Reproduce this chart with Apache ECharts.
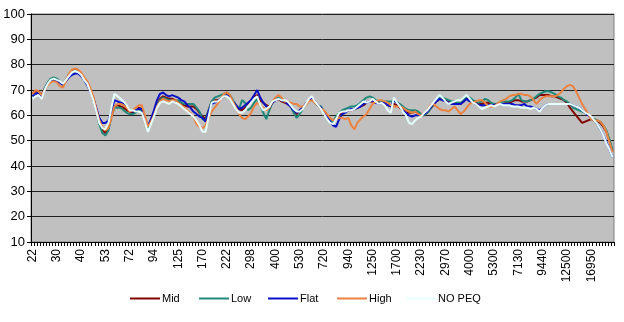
<!DOCTYPE html>
<html>
<head>
<meta charset="utf-8">
<script src="https://cdn.jsdelivr.net/npm/echarts@6/dist/echarts.min.js"></script>
<style>
  html, body { margin: 0; padding: 0; background: #ffffff; }
  #chart { width: 624px; height: 322px; }
</style>
</head>
<body>
<div id="chart"></div>
<script>
// Frequency labels shown every 8th measurement point (Hz)
const tickLabels = ['22', '30', '40', '53', '72', '94', '125', '170', '222', '298', '400', '530',
  '720', '940', '1250', '1700', '2230', '2970', '4000', '5300', '7130', '9440', '12500', '16950'];
const pointsPerLabel = 8;
const pointCount = 192;

// Response level (dB) per measurement point, one row per 8 points
const mid = [
  68.5, 69.5, 69.5, 68, 70.5, 72.5, 74, 74,
  74, 73, 72.5, 74, 76, 77.5, 78, 77.5,
  76.5, 74.5, 73, 70, 66.5, 62, 57, 54,
  53, 55, 60, 63.5, 64, 63.5, 63, 62,
  61.5, 61, 61.5, 63, 62.5, 58.5, 54.5, 57.5,
  61, 64.5, 66.5, 67.5, 67, 66.5, 66.5, 66,
  65.5, 65, 64, 63.5, 63.5, 63.5, 62.5, 61,
  59.5, 58.5, 62, 65.5, 66, 66, 66.5, 67.5,
  68, 67, 65.5, 64, 62.5, 62, 63, 64.5,
  66, 67.5, 68, 66, 65, 64, 63.5, 65,
  66, 66.5, 65.5, 65, 64.5, 63.5, 62, 60.5,
  62, 63, 64.5, 66, 66.5, 65, 64, 63,
  61.5, 60, 58.5, 58, 59, 60, 61, 61.5,
  62, 62, 62.5, 63, 63.5, 64, 65, 65.5,
  65.5, 65, 65, 65, 64.5, 64, 64, 64.5,
  64, 63, 62, 61.5, 61, 61, 61.5, 61,
  60, 60, 61, 62.5, 64, 65.5, 66.5, 66,
  66, 65.5, 65, 65, 64.5, 64.5, 65.5, 67,
  66.5, 65.5, 65, 64.5, 64.5, 65, 65, 64.5,
  64.5, 64.5, 64.5, 64.5, 65, 65, 65.5, 66,
  66, 65.5, 65.5, 65.5, 66, 66.5, 67, 68,
  68, 68, 68, 67.5, 67.5, 67, 66.5, 66,
  65, 63, 61.5, 60, 58.5, 57, 57.5, 58,
  58.5, 58, 58, 57, 55.5, 53.5, 50, 46
];
const low = [
  67.5, 68.5, 69, 67.5, 70.5, 73, 74.5, 75,
  74.5, 73.5, 72.5, 74, 75.5, 77, 77.5, 77,
  76, 74.5, 73, 70, 66.5, 62, 56.5, 53,
  52, 54, 59.5, 63, 63, 63, 62, 61,
  60.5, 60.5, 61, 62, 62, 58, 54.5, 57,
  60.5, 64, 66, 67, 66.5, 66, 66, 65.5,
  66, 65, 64.5, 64.5, 64.5, 64.5, 63, 61.5,
  58.5, 58, 62, 65.5, 67, 67.5, 68, 68.5,
  69, 68, 66, 64, 62.5, 66, 65, 62,
  63, 65, 66.5, 64, 61, 58.5, 62, 65,
  66.5, 67, 66, 65.5, 65, 63.5, 61, 59,
  60.5, 62.5, 64.5, 66, 66.5, 65, 64, 63.5,
  61.5, 60, 58.5, 57.5, 59.5, 61, 62, 62.5,
  63, 63.5, 63.5, 64, 65, 66, 67, 67.5,
  67, 66, 65.5, 65.5, 65.5, 65.5, 65.5, 65.5,
  65, 64.5, 63.5, 62.5, 62, 62, 62, 61.5,
  60.5, 60, 61, 62.5, 64.5, 66, 67.5, 67,
  66.5, 66, 65.5, 65.5, 65, 65, 66, 67.5,
  67, 66, 65.5, 65, 65.5, 66.5, 66, 65,
  64.5, 64.5, 65, 65.5, 65.5, 65.5, 66, 67,
  68.5, 66, 65.5, 65.5, 66, 66.5, 67.5, 68.5,
  69, 69.5, 69.5, 69, 68.5, 67.5, 67, 66,
  65.5, 64.5, 63, 62.5, 62, 61.5, 61, 60.5,
  59, 58.5, 58, 57.5, 56, 54, 50.5, 46.5
];
const flat = [
  67.5, 68.5, 69, 67.5, 70, 72.5, 73.5, 74,
  73.5, 73, 72, 73.5, 75, 76, 76.5, 76.5,
  75.5, 74, 72, 69.5, 67, 63, 59, 57,
  57, 58, 62, 66, 65.5, 65, 64.5, 63.5,
  62, 61.5, 62, 62.5, 62.5, 59, 55.5, 58.5,
  62, 66, 68.5, 69, 68, 67.5, 68, 67.5,
  67, 66, 65.5, 64, 63, 61.5, 60.5, 59.5,
  59, 57.5, 61.5, 64.5, 65, 65.5, 66.5, 67.5,
  68, 67, 65.5, 64, 62.5, 63, 64, 65,
  66, 68, 70, 67, 65, 63.5, 63, 65,
  66, 66.5, 66, 65.5, 64.5, 63.5, 62, 61,
  62, 63, 64.5, 66, 67, 65.5, 64, 63,
  61, 59.5, 57.5, 56, 55.5, 58.5, 60.5, 61,
  62, 62.5, 62.5, 63, 63.5, 64.5, 65, 65.5,
  66, 65, 64.5, 65, 65, 64, 63.5, 66,
  65, 63.5, 62, 61, 60, 59.5, 60, 60,
  60, 60.5, 61.5, 63, 64.5, 65.5, 66.5, 66,
  65.5, 65, 64.5, 64.5, 64.5, 64.5, 65.5, 66.5,
  65.5, 65, 64.5, 64, 64, 64, 64, 64,
  64, 64.5, 64.5, 64.5, 64.5, 64.5, 64.5, 64,
  64, 64, 64.5, 63.5, 63.5, 63, 62.5, 62,
  63, 64, 64.5, 64.5, 64.5, 64.5, 64.5, 64.5,
  64.5, 64.5, 64, 63.5, 63, 62, 61, 60,
  59, 58, 56.5, 54.5, 52, 49.5, 46.5, 43.5
];
const high = [
  68.5, 70, 69.5, 68, 70, 72, 73, 73.5,
  73, 71.5, 71, 73.5, 76.5, 78, 78.5, 78,
  77, 75, 73.5, 71, 67.5, 62.5, 58, 55.5,
  54, 55, 59, 63.5, 64.5, 64.5, 64, 63,
  61.5, 62, 63, 64, 64, 60, 55.5, 57.5,
  60, 63.5, 65.5, 66.5, 66, 65.5, 66, 66,
  65, 64, 63, 62, 61, 59.5, 56.5, 55.5,
  55, 56, 59, 61.5, 63, 64.5, 66.5, 68.5,
  69, 68, 65.5, 63, 60.5, 59, 58.5, 59.5,
  61, 63.5, 65, 64, 63, 62, 63, 65.5,
  67, 68, 67, 65.5, 65.5, 65, 64.5, 64.5,
  63.5, 63.5, 64, 65.5, 66, 65, 64, 62.5,
  62, 60.5, 59, 58, 58.5, 59, 59, 58.5,
  59, 56, 54.5, 57, 58.5, 59.5, 60.5, 62.5,
  64.5, 65.5, 66, 66, 65.5, 65, 64, 63.5,
  63.5, 63.5, 63, 62, 61.5, 61, 61.5, 60.5,
  60, 61, 62, 64, 64.5, 63.5, 62.5, 62,
  62, 61.5, 62.5, 63.5, 62, 60.5, 61.5, 63,
  64.5, 65, 65.5, 66, 66, 65, 63.5, 63.5,
  63.5, 64.5, 65.5, 66, 66.5, 67.5, 68, 68,
  68.5, 68.5, 68, 68, 67.5, 66, 64.5, 66,
  67, 67.5, 67.5, 67.5, 67.5, 68, 69, 70.5,
  71.5, 72, 71.5, 69.5, 67, 64.5, 62.5, 60.5,
  58.5, 58, 58, 57.5, 56, 53.5, 49.5, 45.5
];
const noPeq = [
  66.5, 67.5, 68, 66.5, 70, 72.5, 74, 74.5,
  74, 73.5, 72.5, 74, 75.5, 77, 77.5, 77,
  76, 74, 72.5, 69.5, 66, 61.5, 57, 55,
  54.5, 57, 63, 68.5, 67.5, 66.5, 65.5, 64,
  62, 62, 61.5, 61.5, 61, 57.5, 53.5, 56.5,
  59.5, 63, 65, 65.5, 65, 64.5, 65.5, 65,
  64.5, 63.5, 62.5, 61.5, 60.5, 59.5, 58, 56,
  53.5, 53.5, 59.5, 65, 65.5, 65.5, 66.5, 67.5,
  67.5, 66.5, 64.5, 62.5, 61, 61, 62, 63.5,
  65, 66.5, 67.5, 64, 62, 62.5, 63.5, 65.5,
  66, 66.5, 66, 66, 65.5, 64, 62.5, 61.5,
  61.5, 62.5, 64.5, 66.5, 67.5, 65.5, 64, 62.5,
  60.5, 58.5, 57, 56.5, 58.5, 61, 61.5, 61.5,
  62, 62, 62.5, 63.5, 64.5, 65.5, 65, 65.5,
  66.5, 65.5, 64.5, 65, 64, 62, 61, 67,
  65, 63.5, 61.5, 60, 57, 56.5, 58, 59,
  59.5, 61, 62, 63.5, 65, 66.5, 68, 67,
  65.5, 64.5, 65, 65.5, 66, 66, 67, 68,
  66.5, 65, 64.5, 63.5, 62.5, 63, 63.5, 64,
  63.5, 64, 64.5, 64, 64, 64, 63.5, 63.5,
  63.5, 63, 63, 63, 62.5, 63, 62.5, 61.5,
  63, 64, 64.5, 64.5, 64.5, 64.5, 64.5, 64.5,
  64.5, 64.5, 64, 63.5, 63, 62, 61, 60.5,
  59.5, 58, 56.5, 54.5, 52, 49, 46.5, 43.5
];

const seriesNames = ['Mid', 'Low', 'Flat', 'High', 'NO PEQ'];
const seriesColors = ['#800000', '#1f8a7a', '#0a10c8', '#ec8240', '#e6ffff'];
const seriesValues = [mid, low, flat, high, noPeq];

const categories = Array.from({ length: pointCount }, (_, i) => String(i));

const chart = echarts.init(document.getElementById('chart'), null, { renderer: 'canvas' });

// Legend entries sit at a fixed pitch along the bottom
const legendLefts = [130, 199, 268, 337, 406];

chart.setOption({
  animation: false,
  backgroundColor: '#ffffff',
  textStyle: { fontFamily: 'Liberation Sans, Arial, sans-serif' },
  grid: {
    left: 31, right: 10, top: 14, bottom: 80,
    show: true, backgroundColor: '#c0c0c0', borderColor: '#808080', borderWidth: 1
  },
  legend: seriesNames.map((name, k) => ({
    data: [name],
    left: legendLefts[k],
    top: 293,
    icon: 'rect',
    itemWidth: 30,
    itemHeight: 2,
    itemGap: 0,
    padding: 0,
    textStyle: { fontSize: 11, color: '#000', padding: [0, 0, 0, -3] }
  })),
  xAxis: {
    type: 'category',
    data: categories,
    boundaryGap: true,
    axisLine: { lineStyle: { color: '#000', width: 1 } },
    axisTick: { show: true, interval: 0, length: 4, lineStyle: { color: '#000' } },
    axisLabel: {
      interval: pointsPerLabel - 1,
      rotate: 90,
      margin: 7,
      fontSize: 12,
      color: '#000',
      formatter: (v, idx) => (idx % pointsPerLabel === 0 ? tickLabels[idx / pointsPerLabel] : '')
    },
    splitLine: { show: false }
  },
  yAxis: {
    type: 'value',
    min: 10, max: 100, interval: 10,
    axisLine: { show: true, lineStyle: { color: '#000' } },
    axisTick: { show: true, length: 4, lineStyle: { color: '#000' } },
    axisLabel: { fontSize: 13, color: '#000', margin: 6 },
    splitLine: { lineStyle: { color: '#202020', width: 1 } }
  },
  series: seriesNames.map((name, k) => ({
    name,
    type: 'line',
    data: seriesValues[k],
    showSymbol: false,
    symbol: 'none',
    lineStyle: { color: seriesColors[k], width: 2 },
    itemStyle: { color: seriesColors[k] },
    z: 2 + k
  }))
});
</script>
</body>
</html>
